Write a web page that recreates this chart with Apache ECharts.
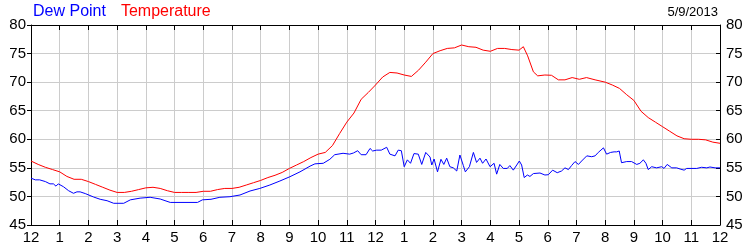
<!DOCTYPE html>
<html>
<head>
<meta charset="utf-8">
<script src="https://cdn.jsdelivr.net/npm/echarts@6/dist/echarts.min.js"></script>
<style>
html,body{margin:0;padding:0;background:#fff;}
#chart{width:750px;height:250px;}
</style>
</head>
<body>
<div id="chart"></div>
<script>
var hourTicks = [0,1,2,3,4,5,6,7,8,9,10,11,12,13,14,15,16,17,18,19,20,21,22,23,24];
var hourLabels = ['12','1','2','3','4','5','6','7','8','9','10','11','12','1','2','3','4','5','6','7','8','9','10','11','12'];
var dateText = '5/9/2013';

var tempHours = [0,0.25,0.5,0.75,1,1.25,1.5,1.75,2,2.25,2.5,2.75,3,3.25,3.5,3.75,4,4.25,4.5,4.75,5,5.25,5.5,5.75,6,6.25,6.5,6.75,7,7.25,7.5,7.75,8,8.25,8.5,8.75,9,9.25,9.5,9.75,10,10.25,10.5,10.75,11,11.25,11.5,11.75,12,12.25,12.5,12.75,13,13.25,13.5,13.75,14,14.25,14.5,14.75,15,15.25,15.5,15.75,16,16.25,16.5,16.75,17,17.15,17.3,17.5,17.65,17.9,18.13,18.37,18.6,18.85,19.1,19.35,19.65,20,20.25,20.5,20.75,21,21.25,21.5,21.75,22,22.25,22.5,22.75,23,23.25,23.5,23.75,24];
var tempValues = [56.2,55.6,55.1,54.7,54.3,53.5,53.0,53.0,52.6,52.1,51.6,51.1,50.7,50.7,50.9,51.2,51.5,51.6,51.4,51.0,50.7,50.7,50.7,50.7,50.9,50.9,51.2,51.4,51.4,51.6,52.0,52.4,52.8,53.3,53.7,54.2,54.9,55.5,56.1,56.8,57.4,57.7,58.9,61.0,63.0,64.6,67.0,68.2,69.5,70.9,71.7,71.6,71.25,71.0,72.1,73.5,75.0,75.5,75.9,76.0,76.5,76.2,76.1,75.6,75.4,75.9,75.9,75.7,75.6,76.2,74.6,71.8,71.1,71.25,71.2,70.4,70.4,70.8,70.5,70.8,70.4,70.0,69.5,68.9,67.8,66.8,64.9,63.8,63.0,62.2,61.4,60.6,60.1,60.0,60.0,59.9,59.5,59.3];

var dewHours = [0,0.15,0.3,0.5,0.66,0.78,0.87,0.95,1.01,1.13,1.31,1.48,1.6,1.71,1.89,2.18,2.41,2.65,2.88,3.23,3.46,3.8,4.15,4.5,4.85,5.8,5.97,6.27,6.58,6.93,7.28,7.63,7.97,8.32,8.67,9.02,9.37,9.72,9.89,10.18,10.41,10.58,10.87,11.1,11.23,11.38,11.5,11.67,11.81,11.9,12.04,12.2,12.39,12.5,12.68,12.79,12.9,13.0,13.11,13.22,13.34,13.49,13.61,13.75,13.9,13.96,14.04,14.16,14.28,14.38,14.48,14.59,14.71,14.83,14.94,15.06,15.13,15.27,15.41,15.52,15.64,15.73,15.85,15.99,16.13,16.22,16.33,16.45,16.59,16.68,16.8,16.92,17.01,17.09,17.18,17.29,17.38,17.5,17.73,17.9,18.02,18.17,18.33,18.48,18.6,18.72,18.83,18.95,19.07,19.18,19.36,19.53,19.65,19.76,19.94,20.05,20.19,20.31,20.4,20.49,20.57,20.75,20.92,21.1,21.21,21.33,21.42,21.5,21.62,21.79,21.97,22.05,22.16,22.32,22.49,22.61,22.75,22.84,23.19,23.36,23.54,23.65,23.83,24];
var dewValues = [53.2,52.9,52.9,52.6,52.2,52.2,51.8,52.2,52.2,51.7,51.0,50.55,50.8,50.8,50.5,49.9,49.5,49.25,48.8,48.8,49.4,49.7,49.85,49.55,48.95,48.95,49.4,49.5,49.85,49.95,50.25,50.95,51.4,52.0,52.7,53.45,54.3,55.3,55.7,55.8,56.5,57.3,57.55,57.4,57.6,58.0,57.3,57.3,58.4,57.95,58.1,58.1,58.6,57.4,57.1,58.1,58.0,55.2,56.4,55.8,57.5,57.4,55.6,57.7,56.9,55.5,56.55,54.3,56.5,55.6,56.7,55.2,55.0,54.45,57.25,55.4,54.3,55.2,57.7,55.95,56.7,55.8,56.55,55.2,55.8,53.9,55.6,54.9,54.9,55.4,54.6,55.5,56.2,55.5,53.3,53.75,53.5,54.0,54.1,53.75,53.8,54.6,54.15,54.45,55.0,54.7,55.4,56.1,55.6,56.2,57.1,56.95,57.1,57.7,58.5,57.4,57.7,57.8,57.8,57.95,55.9,56.1,56.1,55.6,55.8,56.4,55.8,54.7,55.2,55.0,55.2,54.9,55.6,55.0,55.0,54.8,54.6,54.9,54.9,55.1,55.0,55.15,55.0,55.0];

function zip(xs, ys){ var out=[]; for(var i=0;i<xs.length;i++){ out.push([xs[i], ys[i]]); } return out; }

var FONT = "'Liberation Sans', Arial, sans-serif";
var chart = echarts.init(document.getElementById('chart'), null, {renderer:'canvas'});
var labelFmt = function(v){ var i = hourTicks.indexOf(v); return i >= 0 ? hourLabels[i] : ''; };

chart.setOption({
  animation: false,
  backgroundColor: '#ffffff',
  title: [
    { text: '{b|Dew Point}   {r|Temperature}', left: 33, top: 3, padding: 0,
      textStyle: { fontWeight: 'normal', rich: {
        b: { color: '#0000ff', fontSize: 16, fontWeight: 'normal', fontFamily: FONT },
        r: { color: '#ff0000', fontSize: 16, fontWeight: 'normal', fontFamily: FONT } } } },
    { text: dateText, right: 32, top: 6, padding: 0,
      textStyle: { color: '#000', fontSize: 13, fontWeight: 'normal', fontFamily: FONT } }
  ],
  grid: { left: 31, right: 30, top: 25, bottom: 25 },
  xAxis: [
    { type: 'value', min: 0, max: 24, interval: 1, position: 'bottom',
      axisLine: { show: true, onZero: false, lineStyle: { color: '#000', width: 1 } },
      axisTick: { show: true, inside: true, length: 5, lineStyle: { color: '#000' } },
      axisLabel: { formatter: labelFmt, color: '#000', fontSize: 15, fontFamily: FONT, margin: 5 },
      splitLine: { show: true, lineStyle: { color: '#cccccc', width: 1 } } },
    { type: 'value', min: 0, max: 24, interval: 1, position: 'top',
      axisLine: { show: true, onZero: false, lineStyle: { color: '#000', width: 1 } },
      axisTick: { show: true, inside: true, length: 5, lineStyle: { color: '#000' } },
      axisLabel: { show: false },
      splitLine: { show: false } }
  ],
  yAxis: [
    { type: 'value', min: 45, max: 80, interval: 5, position: 'left',
      axisLine: { show: true, onZero: false, lineStyle: { color: '#000', width: 1 } },
      axisTick: { show: true, inside: false, length: 4, lineStyle: { color: '#000' } },
      axisLabel: { color: '#000', fontSize: 15, fontFamily: FONT, margin: 5 },
      splitLine: { show: true, lineStyle: { color: '#cccccc', width: 1 } } },
    { type: 'value', min: 45, max: 80, interval: 5, position: 'right',
      axisLine: { show: true, onZero: false, lineStyle: { color: '#000', width: 1 } },
      axisTick: { show: true, inside: true, length: 4, lineStyle: { color: '#000' } },
      axisLabel: { color: '#000', fontSize: 15, fontFamily: FONT, margin: 6 },
      splitLine: { show: false } }
  ],
  series: [
    { name: 'Temperature', type: 'line', data: zip(tempHours, tempValues),
      showSymbol: false, symbol: 'none', smooth: false,
      lineStyle: { color: '#ff0000', width: 1 }, itemStyle: { color: '#ff0000' } },
    { name: 'Dew Point', type: 'line', data: zip(dewHours, dewValues),
      showSymbol: false, symbol: 'none', smooth: false,
      lineStyle: { color: '#0000ff', width: 1 }, itemStyle: { color: '#0000ff' } }
  ]
});
</script>
</body>
</html>
